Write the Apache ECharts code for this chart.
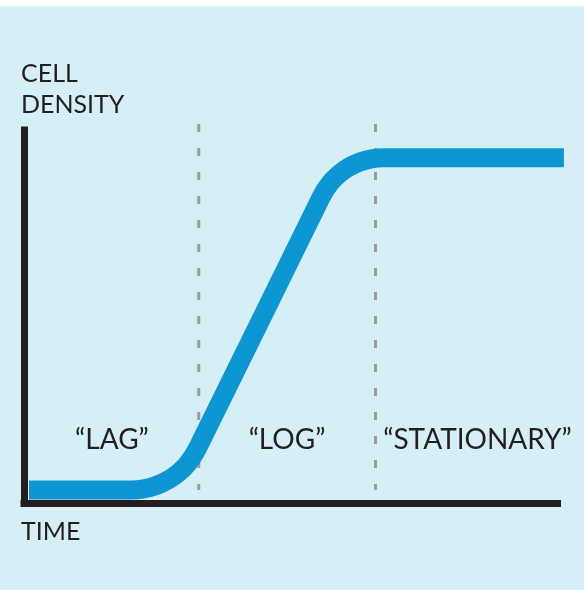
<!DOCTYPE html>
<html>
<head>
<meta charset="utf-8">
<script src="https://cdn.jsdelivr.net/npm/echarts@6/dist/echarts.min.js"></script>
<style>
  html, body { margin: 0; padding: 0; background: #ffffff; }
  #chart { width: 584px; height: 590px; }
</style>
</head>
<body>
<div id="chart"></div>
<script>
// ---- data ----
const curveTime    = [0.94, 20.06, 22.46, 24.80, 26.99, 28.97, 30.68, 32.50, 55.78, 57.48, 59.07, 60.92, 62.96, 65.14, 67.38, 101.2];
const curveDensity = [3.49, 3.49, 3.79, 4.68, 6.14, 8.13, 10.57, 14.58, 82.23, 85.94, 88.22, 90.07, 91.43, 92.27, 92.55, 92.55];

const dividerTime = [32.75, 65.89];
const dividerTop = 101.6;
const dividerBottom = 3.5;

const phaseNames = ['\u201CLAG\u201D', '\u201CLOG\u201D', '\u201CSTATIONARY\u201D'];
const phaseTime = [16.49, 49.3, 85.0];
const phaseLevel = [17.0, 17.0, 17.0];

const yAxisTitle = 'CELL\nDENSITY';
const xAxisTitle = 'TIME';

// ---- chart ----
const BLUE = '#0D96D4';
const INK = '#231F20';
const FONT = 'Lato, "DejaVu Sans Condensed", "Liberation Sans", sans-serif';

const chart = echarts.init(document.getElementById('chart'), null, { renderer: 'canvas' });

const curveData = curveTime.map((t, i) => [t, curveDensity[i]]);
const labelData = phaseTime.map((t, i) => ({ value: [t, phaseLevel[i]], name: phaseNames[i] }));

const dividerSeries = dividerTime.map(t => ({
  type: 'line',
  data: [[t, dividerTop], [t, dividerBottom]],
  showSymbol: false,
  symbol: 'none',
  clip: false,
  silent: true,
  z: 1,
  lineStyle: { color: '#9C9C9C', width: 3, type: [8, 16], cap: 'butt' }
}));

chart.setOption({
  animation: false,
  backgroundColor: '#D6EEF6',
  grid: { left: 24, right: 26.5, top: 130, bottom: 87 },
  xAxis: {
    type: 'value', min: 0, max: 100,
    axisLine: { show: true, onZero: false, lineStyle: { color: INK, width: 7, cap: 'square' } },
    axisTick: { show: false }, axisLabel: { show: false }, splitLine: { show: false }
  },
  yAxis: {
    type: 'value', min: 0, max: 100,
    axisLine: { show: true, onZero: false, lineStyle: { color: INK, width: 7, cap: 'square' } },
    axisTick: { show: false }, axisLabel: { show: false }, splitLine: { show: false }
  },
  graphic: [
    { type: 'rect', shape: { x: 0, y: 0, width: 584, height: 6 }, style: { fill: '#ffffff' }, silent: true },
    { type: 'text', x: 21, y: 58, z: 100, silent: true,
      style: { text: yAxisTitle, fontFamily: FONT, fontSize: 25, lineHeight: 31, fill: INK, verticalAlign: 'top', align: 'left' } },
    { type: 'text', x: 21, y: 532, z: 100, silent: true,
      style: { text: xAxisTitle, fontFamily: FONT, fontSize: 25, fill: INK, verticalAlign: 'middle', align: 'left' } }
  ],
  series: dividerSeries.concat([
    {
      type: 'line',
      data: curveData,
      showSymbol: false,
      symbol: 'none',
      smooth: 0.3,
      clip: false,
      silent: true,
      z: 3,
      lineStyle: { color: BLUE, width: 19, cap: 'butt', join: 'round' }
    },
    {
      type: 'scatter',
      data: labelData,
      symbolSize: 0,
      silent: true,
      clip: false,
      z: 5,
      itemStyle: { opacity: 1 },
      label: {
        show: true, position: 'inside', opacity: 1,
        formatter: p => p.name,
        fontFamily: FONT, fontSize: 28, color: INK
      }
    }
  ])
});
</script>
</body>
</html>
